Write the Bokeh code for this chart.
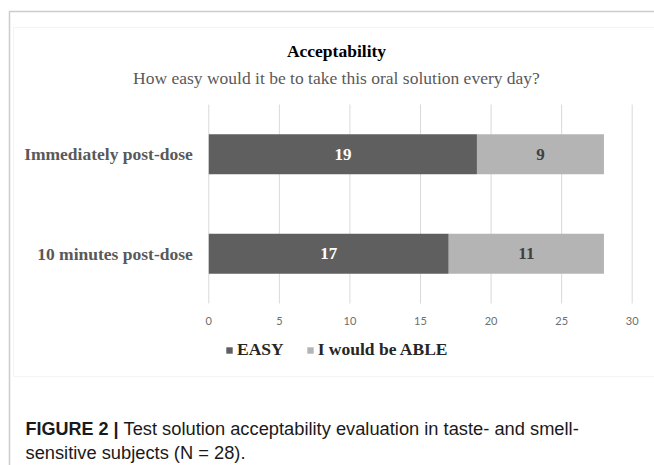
from bokeh.plotting import figure
from bokeh.models import (ColumnDataSource, Label, Legend, LegendItem, BoxAnnotation,
                          Range1d, FixedTicker)
from bokeh.embed import file_html
from bokeh.resources import INLINE
from bokeh.core.properties import value

# ---- data ----
categories = ["10 minutes post-dose", "Immediately post-dose"]
easy = [17, 19]
able = [11, 9]
series_names = ["EASY", "I would be ABLE"]
series_colors = ["#5f5f5f", "#b4b4b4"]
x_ticks = [0, 5, 10, 15, 20, 25, 30]
title_text = "Acceptability"
subtitle_text = "How easy would it be to take this oral solution every day?"
caption_bold = "FIGURE 2 |"
caption_line1 = "Test solution acceptability evaluation in taste- and smell-"
caption_line2 = "sensitive subjects (N = 28)."

# ---- layout (pixels on the canvas) ----
W, H = 654, 465
PX_X0, PX_X1 = 208.3, 631.7      # where the value axis starts / ends
PX_TOP, PX_BOT = 104.0, 303.0    # top / bottom of the category bands

ncat = len(categories)
ppx = (PX_X1 - PX_X0) / (x_ticks[-1] - x_ticks[0])
ppy = (PX_BOT - PX_TOP) / ncat
x_range = Range1d(x_ticks[0] - PX_X0 / ppx, x_ticks[-1] + (W - PX_X1) / ppx)
y_range = Range1d(-0.5 - (H - PX_BOT) / ppy, ncat - 0.5 + PX_TOP / ppy)

def sy(y):  # canvas y (from top) -> screen units (from bottom)
    return H - y

ypos = list(range(ncat))
src = ColumnDataSource(dict(
    y=ypos, easy=easy, able=able,
    easy_mid=[e / 2 for e in easy],
    able_mid=[e + a / 2 for e, a in zip(easy, able)],
    easy_txt=[str(v) for v in easy],
    able_txt=[str(v) for v in able],
))

p = figure(width=W, height=H, x_range=x_range, y_range=y_range, title=None,
           output_backend="svg", toolbar_location=None,
           min_border_left=0, min_border_right=0, min_border_top=0, min_border_bottom=0)
p.outline_line_color = None
p.background_fill_color = "white"
p.border_fill_color = "white"
p.xgrid.grid_line_color = None
p.ygrid.grid_line_color = None

# vertical gridlines at the ticks, spanning the category bands
p.segment(x0=x_ticks, x1=x_ticks, y0=[-0.5] * len(x_ticks), y1=[ncat - 0.5] * len(x_ticks),
          line_color="#d9d9d9", line_width=1)

rs = p.hbar_stack(["easy", "able"], y="y", height=0.4, color=series_colors,
                  line_color=None, source=src)

serif = "Liberation Serif"
p.text(x="easy_mid", y="y", text="easy_txt", source=src, text_align="center",
       text_baseline="middle", text_font=value(serif), text_font_style="bold",
       text_font_size="17px", text_color="white")
p.text(x="able_mid", y="y", text="able_txt", source=src, text_align="center",
       text_baseline="middle", text_font=value(serif), text_font_style="bold",
       text_font_size="17px", text_color="#404040")

# axes (fixed inside the canvas)
xa = p.xaxis[0]
xa.fixed_location = -0.5
xa.ticker = FixedTicker(ticks=x_ticks)
xa.axis_line_color = None
xa.major_tick_line_color = None
xa.minor_tick_line_color = None
xa.major_tick_out = 0
xa.major_tick_in = 0
xa.major_label_standoff = 13
xa.major_label_text_font = "Lato"
xa.major_label_text_font_size = "11px"
xa.major_label_text_color = "#6e6e6e"

ya = p.yaxis[0]
ya.fixed_location = x_ticks[0]
ya.ticker = FixedTicker(ticks=ypos)
ya.major_label_overrides = {i: c for i, c in zip(ypos, categories)}
ya.axis_line_color = None
ya.major_tick_line_color = None
ya.minor_tick_line_color = None
ya.major_tick_out = 0
ya.major_tick_in = 0
ya.major_label_standoff = 16
ya.major_label_text_font = serif
ya.major_label_text_font_style = "bold"
ya.major_label_text_font_size = "17.5px"
ya.major_label_text_color = "#595959"

# frames
p.add_layout(BoxAnnotation(left=9, right=W + 50, top=sy(11), bottom=-50,
                           left_units="screen", right_units="screen",
                           top_units="screen", bottom_units="screen",
                           fill_alpha=0, line_color="#555555", line_width=1.5, level="underlay"))
p.add_layout(BoxAnnotation(left=13, right=W + 50, top=sy(27), bottom=sy(376),
                           left_units="screen", right_units="screen",
                           top_units="screen", bottom_units="screen",
                           fill_alpha=0, line_color="#d9d9d9", line_width=1, level="underlay"))

# titles
cx = 336
p.add_layout(Label(x=cx, y=sy(50), x_units="screen", y_units="screen", text=title_text,
                   text_align="center", text_baseline="middle", text_font=serif,
                   text_font_style="bold", text_font_size="17.5px", text_color="black"))
p.add_layout(Label(x=cx, y=sy(77), x_units="screen", y_units="screen", text=subtitle_text,
                   text_align="center", text_baseline="middle", text_font=serif,
                   text_font_size="17.5px", text_color="#595959"))

# legend
legend = Legend(items=[LegendItem(label=series_names[0], renderers=[rs[0]]),
                       LegendItem(label=series_names[1], renderers=[rs[1]])],
                orientation="horizontal", location=(225, sy(360)),
                glyph_width=8, glyph_height=8, label_standoff=4, spacing=22,
                padding=0, margin=0, border_line_color=None, background_fill_alpha=0,
                label_text_font=serif, label_text_font_style="bold",
                label_text_font_size="17.5px", label_text_color="#262626")
p.add_layout(legend, "center")

# caption
p.add_layout(Label(x=25, y=sy(428), x_units="screen", y_units="screen", text=caption_bold,
                   text_baseline="alphabetic", text_font="Liberation Sans",
                   text_font_style="bold", text_font_size="18px", text_color="#1a1a1a"))
p.add_layout(Label(x=123, y=sy(428), x_units="screen", y_units="screen", text=caption_line1,
                   text_baseline="alphabetic", text_font="Liberation Sans",
                   text_font_size="18.3px", text_color="#1a1a1a"))
p.add_layout(Label(x=25, y=sy(452), x_units="screen", y_units="screen", text=caption_line2,
                   text_baseline="alphabetic", text_font="Liberation Sans",
                   text_font_size="18.3px", text_color="#1a1a1a"))

open("out.html", "w").write(file_html(p, INLINE))
